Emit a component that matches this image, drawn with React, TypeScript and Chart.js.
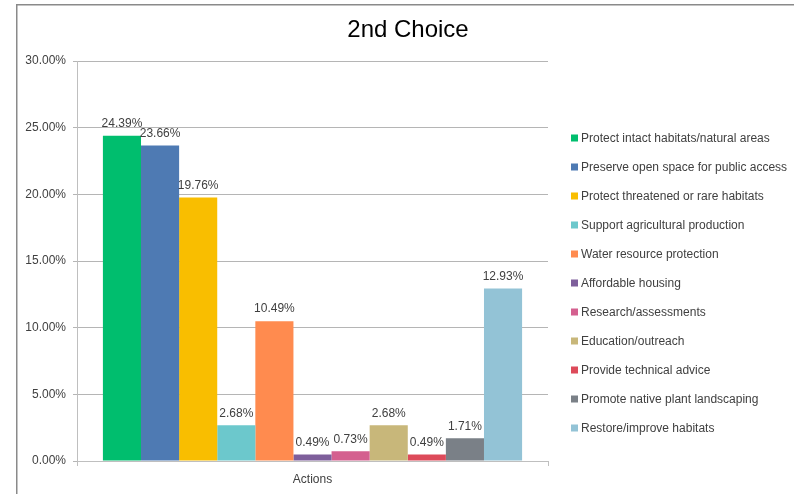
import React, { useEffect, useRef } from "react";
import { Chart, registerables } from "chart.js";

Chart.register(...registerables);

const chartTitle = "2nd Choice";
const categories = ["Actions"];
const seriesLabels = [
  "Protect intact habitats/natural areas",
  "Preserve open space for public access",
  "Protect threatened or rare habitats",
  "Support agricultural production",
  "Water resource protection",
  "Affordable housing",
  "Research/assessments",
  "Education/outreach",
  "Provide technical advice",
  "Promote native plant landscaping",
  "Restore/improve habitats",
];
const seriesValues = [24.39, 23.66, 19.76, 2.68, 10.49, 0.49, 0.73, 2.68, 0.49, 1.71, 12.93];
const seriesColors = [
  "#00BE6E",
  "#4E7AB3",
  "#F9BE00",
  "#6CC8CC",
  "#FF8B4F",
  "#7E5F9B",
  "#D4608F",
  "#C8B77A",
  "#DD4A5A",
  "#7A8087",
  "#93C3D6",
];

const FONT = "'Liberation Sans', Arial, sans-serif";

const extrasPlugin = {
  id: "extras",
  beforeDraw(chart: any) {
    const ctx = chart.ctx;
    ctx.save();
    ctx.fillStyle = "#ffffff";
    ctx.fillRect(0, 0, chart.width, chart.height);
    ctx.strokeStyle = "#8a8a8a";
    ctx.lineWidth = 1.5;
    ctx.beginPath();
    ctx.moveTo(16.75, chart.height);
    ctx.lineTo(16.75, 4.75);
    ctx.lineTo(chart.width, 4.75);
    ctx.stroke();
    ctx.restore();
  },
  afterDraw(chart: any) {
    const ctx = chart.ctx;
    ctx.save();
    // title
    ctx.fillStyle = "#000000";
    ctx.font = `24px ${FONT}`;
    ctx.textAlign = "center";
    ctx.textBaseline = "middle";
    ctx.fillText(chartTitle, 408, 30);
    // legend
    ctx.font = `12px ${FONT}`;
    ctx.textAlign = "left";
    chart.data.datasets.forEach((ds: any, i: number) => {
      const y = 138.5 + i * 29;
      ctx.fillStyle = ds.backgroundColor;
      ctx.fillRect(571, y - 4, 7, 7);
      ctx.fillStyle = "#404040";
      ctx.fillText(ds.label, 581, y);
    });
    ctx.restore();
  },
  afterDatasetsDraw(chart: any) {
    const ctx = chart.ctx;
    ctx.save();
    ctx.font = `12px ${FONT}`;
    ctx.fillStyle = "#404040";
    ctx.textAlign = "center";
    ctx.textBaseline = "middle";
    chart.data.datasets.forEach((ds: any, i: number) => {
      const meta = chart.getDatasetMeta(i);
      meta.data.forEach((el: any, j: number) => {
        const v = ds.data[j];
        ctx.fillText(v.toFixed(2) + "%", el.x, el.y - 12);
      });
    });
    ctx.restore();
  },
};

export default function App() {
  const ref = useRef<HTMLCanvasElement | null>(null);
  useEffect(() => {
    if (!ref.current) return;
    const chart = new Chart(ref.current, {
      type: "bar",
      data: {
        labels: categories,
        datasets: seriesLabels.map((label, i) => ({
          label,
          data: [seriesValues[i]],
          backgroundColor: seriesColors[i],
          borderWidth: 0,
          categoryPercentage: 0.89,
          barPercentage: 1,
        })),
      },
      options: {
        animation: false,
        responsive: false,
        maintainAspectRatio: false,
        layout: { padding: { left: 16, right: 246, top: 61, bottom: 0 } },
        plugins: {
          legend: { display: false },
          title: { display: false },
          tooltip: { enabled: false },
        },
        scales: {
          x: {
            afterFit(scale: any) {
              scale.height = 33;
            },
            grid: {
              display: true,
              drawOnChartArea: false,
              drawTicks: true,
              tickLength: 5,
              color: "#bfbfbf",
            },
            border: { display: true, color: "#bfbfbf", width: 1 },
            ticks: {
              color: "#404040",
              padding: 6,
              font: { family: FONT, size: 12 },
            },
          },
          y: {
            min: 0,
            max: 30,
            afterFit(scale: any) {
              scale.width = 61;
            },
            ticks: {
              stepSize: 5,
              color: "#404040",
              padding: 7,
              font: { family: FONT, size: 12 },
              callback: (v: any) => Number(v).toFixed(2) + "%",
            },
            grid: {
              color: "#b5b5b5",
              tickLength: 4,
              lineWidth: 1,
            },
            border: { display: true, color: "#bfbfbf", width: 1 },
          },
        },
      },
      plugins: [extrasPlugin],
    } as any);
    return () => chart.destroy();
  }, []);
  return (
    <div style={{ position: "absolute", left: 0, top: 0, width: 794, height: 494 }}>
      <canvas ref={ref} width={794} height={494} style={{ width: 794, height: 494, display: "block" }} />
    </div>
  );
}
